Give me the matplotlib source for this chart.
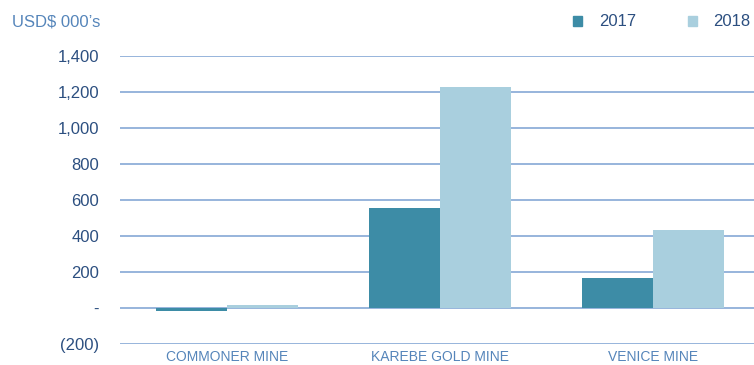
import numpy as np
import matplotlib
matplotlib.use('Agg')
import matplotlib.pyplot as plt
from matplotlib.patches import Patch

plt.rcParams['font.family'] = ['Liberation Sans', 'DejaVu Sans']

# data (USD$ 000's)
mines = ['COMMONER MINE', 'KAREBE GOLD MINE', 'VENICE MINE']
y2017 = [-15, 556, 167]
y2018 = [17, 1228, 433]
yticks = [-200, 0, 200, 400, 600, 800, 1000, 1200, 1400]
ylabels = ['(200)', '-', '200', '400', '600', '800', '1,000', '1,200', '1,400']

c2017 = '#3d8ca6'
c2018 = '#a9cfde'
grid_c = '#7ba1d2'
tick_c = '#2c4f80'
light_c = '#5585ba'

fig = plt.figure(figsize=(7.54, 3.65), dpi=100)
ax = fig.add_axes([120/754, 21/365, 640/754, 288/365])

x = np.arange(len(mines))
w = 1/3
ax.bar(x - w/2, y2017, w, color=c2017, zorder=2)
ax.bar(x + w/2, y2018, w, color=c2018, zorder=2)

ax.set_xlim(-0.5, 2.5)
ax.set_ylim(-200, 1400)
ax.set_yticks(yticks)
ax.set_yticklabels(ylabels, color=tick_c, fontsize=12)
for v in yticks:
    ax.axhline(v, color=grid_c, lw=1.1, zorder=1)

ax.set_xticks(x)
ax.set_xticklabels(mines, color=light_c, fontsize=10)
ax.tick_params(axis='y', length=0, pad=15)
ax.tick_params(axis='x', length=0, pad=4)
for s in ax.spines.values():
    s.set_visible(False)

fig.text(12/754, 1 - 22/365, "USD$ 000\u2019s", color=light_c, fontsize=12,
         va='center', ha='left')

handles = [Patch(color=c2017, label='2017'), Patch(color=c2018, label='2018')]
leg = fig.legend(handles=handles, loc='center right', bbox_to_anchor=(1.0, 1 - 22/365),
                 ncol=2, frameon=False, handlelength=0.55, handleheight=0.55,
                 columnspacing=3.1, handletextpad=1.0, fontsize=12,
                 borderaxespad=0.1, borderpad=0.1)
for t in leg.get_texts():
    t.set_color(tick_c)

fig.savefig('out.png', dpi=100)
